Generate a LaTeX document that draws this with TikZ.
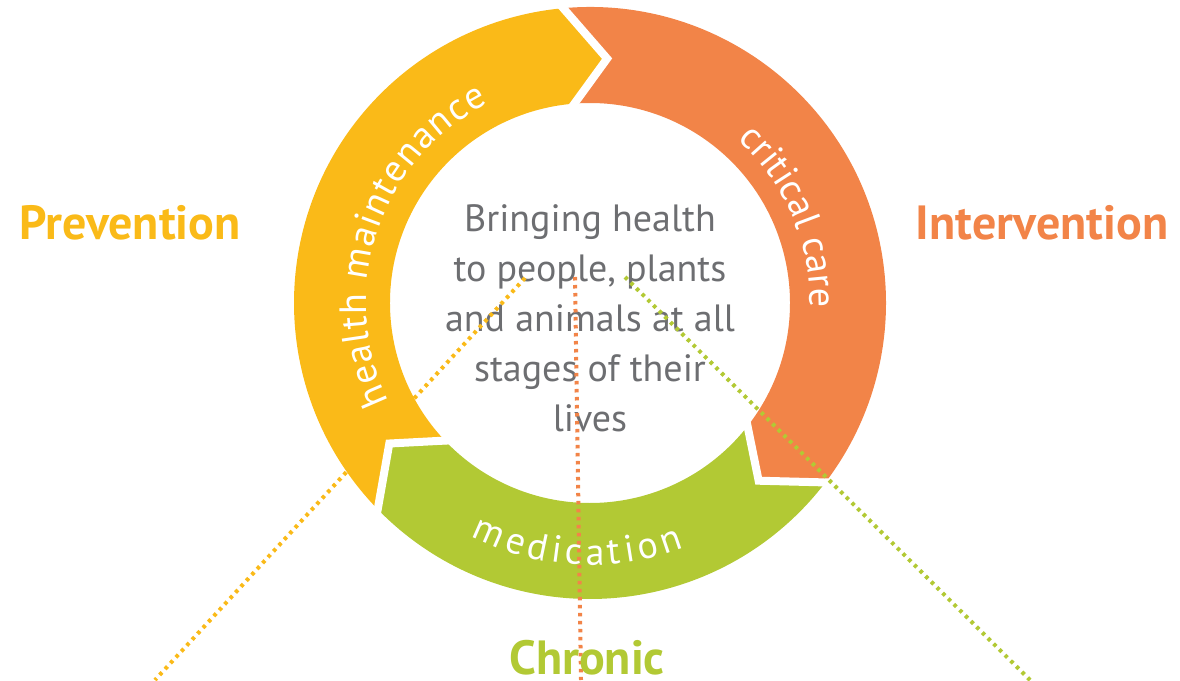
\documentclass[tikz,border=0pt]{standalone}
\usepackage{fontspec}
\setmainfont{PT Sans}
\usetikzlibrary{decorations.text}

\definecolor{prevyellow}{RGB}{250,186,24}
\definecolor{interorange}{RGB}{242,132,72}
\definecolor{chrongreen}{RGB}{178,201,52}
\definecolor{textgrey}{RGB}{109,110,113}

% font for the words written round the ring
\newcommand{\arcfont}{\fontsize{38}{44}\selectfont}

% one arrow-shaped part of the ring, running clockwise from #2 to #3
\newcommand{\ringpart}[3]{%
	\fill[#1] (#2:296) arc[start angle=#2, end angle=#3, radius=296]
		-- (#3-10:245) -- (#3:200)
		arc[start angle=#3, end angle=#2, radius=200]
		-- (#2-10:245) -- cycle;}

\tikzset{
	gap/.style={white, line width=8pt, line join=miter},
	ring label/.style={decorate, decoration={text along path,
		text align={fit to path}, text color=white}},
	stage label/.style={anchor=base, font=\fontsize{48}{52}\selectfont\bfseries},
	mission/.style={align=center, text=textgrey,
		font=\fontsize{38}{50}\selectfont},
	link/.style={line width=4pt, dash pattern=on 3.5pt off 4.5pt},
}

\begin{document}
\begin{tikzpicture}[x=1pt,y=1pt]
	\useasboundingbox (0,0) rectangle (1180,680);
	\coordinate (Ring Centre) at (590,377);

	\begin{scope}[shift={(Ring Centre)}]
		% the three parts of the ring
		\ringpart{prevyellow}{225}{96}
		\ringpart{interorange}{96}{-36.5}
		\ringpart{chrongreen}{-36.5}{-135}
		% white cuts between the parts
		\draw[gap] (96:302) -- (86:245) -- (96:194);
		\draw[gap] (-36.5:302) -- (-46.5:245) -- (-36.5:194);
		\draw[gap] (225:302) -- (215:245) -- (225:194);

		% words along the ring
		\path[ring label, decoration={text={|\arcfont|health maintenance}}]
			(206:224) arc[start angle=206, end angle=117, radius=224];
		\path[ring label, decoration={text={|\arcfont|critical care}}]
			(48:220) arc[start angle=48, end angle=0, radius=220];
		\path[ring label, decoration={text={|\arcfont|medication}}]
			(243:262) arc[start angle=243, end angle=291, radius=262];
	\end{scope}

	\node[mission] (Mission) at (590,362)
		{Bringing health\\to people, plants\\and animals at all\\stages of their\\lives};

	% dotted links running out from the middle
	\coordinate (People) at (525,402);
	\coordinate (Plants) at (575,403);
	\coordinate (Animals) at (625,403);
	\coordinate (Prevention End) at (155,0);
	\coordinate (Chronic End) at (581,0);
	\coordinate (Intervention End) at (1030,0);
	\draw[link, prevyellow] (People) -- (Prevention End);
	\draw[link, interorange] (Plants) -- (Chronic End);
	\draw[link, chrongreen] (Animals) -- (Intervention End);

	\node[stage label, text=prevyellow] (Prevention) at (130,440) {Prevention};
	\node[stage label, text=interorange] (Intervention) at (1042,440) {Intervention};
	\node[stage label, text=chrongreen] (Chronic) at (587,6) {Chronic};
\end{tikzpicture}
\end{document}
